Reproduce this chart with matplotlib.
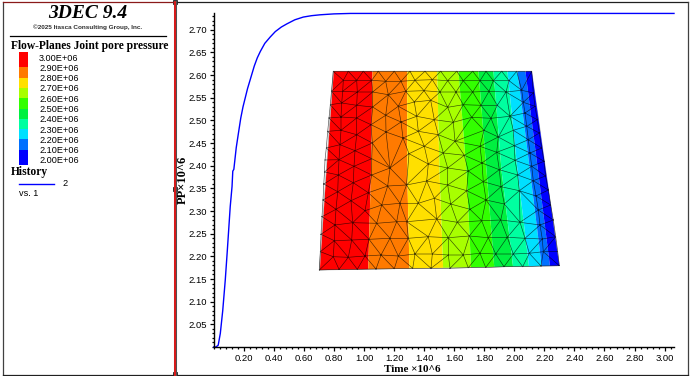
#!/usr/bin/env python3
# -*- coding: utf-8 -*-
import numpy as np
import matplotlib
matplotlib.use('Agg')
import matplotlib.pyplot as plt
import matplotlib.tri as tri
from matplotlib.patches import Polygon, Rectangle
from matplotlib.ticker import MultipleLocator

# history curve, time and pore pressure (x10^6)
time_vals = [0.0, 0.015, 0.03, 0.044, 0.06, 0.077, 0.09, 0.10, 0.11, 0.122, 0.127, 0.134, 0.15, 0.166, 0.18, 0.195,
             0.21, 0.225, 0.243, 0.27, 0.29, 0.31, 0.34, 0.376, 0.41, 0.45, 0.487, 0.54, 0.596, 0.65, 0.708, 0.8,
             0.91, 1.5, 2.2, 3.0625]
pp_vals = [2.0, 2.0, 2.004, 2.03, 2.08, 2.148, 2.21, 2.26, 2.31, 2.354, 2.388, 2.392, 2.44, 2.475, 2.505, 2.53,
           2.55, 2.57, 2.59, 2.62, 2.638, 2.652, 2.67, 2.684, 2.696, 2.706, 2.713, 2.722, 2.728, 2.731, 2.733, 2.735,
           2.736, 2.736, 2.736, 2.736]

x_ticks = [0.20, 0.40, 0.60, 0.80, 1.00, 1.20, 1.40, 1.60, 1.80, 2.00, 2.20, 2.40, 2.60, 2.80, 3.00]
y_ticks = [2.05, 2.10, 2.15, 2.20, 2.25, 2.30, 2.35, 2.40, 2.45, 2.50, 2.55, 2.60, 2.65, 2.70]

# contour legend
legend_vals = [3.00, 2.90, 2.80, 2.70, 2.60, 2.50, 2.40, 2.30, 2.20, 2.10, 2.00]
legend_edges = [3.05, 2.90, 2.80, 2.70, 2.60, 2.50, 2.40, 2.30, 2.20, 2.10, 1.95]
band_colors = ['#ff0000', '#ff7a00', '#ffe000', '#a8ff00', '#33ff00', '#00f040', '#00ffa0', '#00e0ff', '#0070ff', '#0000ff']

# contour bands of the mesh plot: x of each band edge on three rows
band_rows = [71.3, 170, 270]
band_top = [333.3, 372, 406.7, 436.7, 458, 478, 493, 507, 517, 525, 532]
band_mid = [326, 370.5, 406.7, 439, 466, 486, 501, 517, 529.5, 537.5, 546]
band_bot = [319.3, 367.7, 409, 442.7, 470.7, 494, 513, 529, 541.7, 550, 560]
outline_x = [333.3, 531.7, 559.3, 319.3]
outline_y = [71.3, 71.3, 265.7, 270]

# mesh nodes
mesh_nodes = [
    (333.3, 71.3), (348.3, 71.3), (363.3, 71.3), (378.3, 71.3), (394.3, 71.3), (410, 71.3), (425, 71.3),
    (440.7, 71.3), (456.7, 71.3), (472.7, 71.3), (486, 71.3), (501.7, 71.3), (516.7, 71.3), (531.7, 71.3),
    (343.3, 80.3), (356.7, 80.3), (371.7, 80.3), (385.7, 81.3), (401, 81.3), (415, 80.3), (432.3, 79.7),
    (447.7, 80.7), (463.3, 80.7), (480, 80.7), (493.3, 80.7), (509, 80.7),
    (331.5, 91.3), (342.7, 91.3), (357.3, 92), (372.7, 92), (388.3, 94.7), (405.7, 91.3), (424, 90.7),
    (440, 92), (456, 92), (472.7, 92), (489, 91.3), (506, 92), (521.7, 90.3), (533.3, 93),
    (330.3, 104.7), (341.7, 103), (356.7, 105.3), (372.7, 107), (398.3, 106.3), (414.3, 102), (430.7, 100.3),
    (447.7, 107.3), (463.3, 104.7), (481, 105.3), (497.3, 105.3), (523.3, 102.3), (535, 106.3),
    (329, 118), (341, 117), (356.7, 118), (385.7, 115.3), (401, 122), (416.7, 116.3), (434.3, 119.7),
    (453.3, 122.3), (471.7, 117.3), (491, 118.3), (510, 116.3), (525, 113), (537.3, 119.7),
    (327.7, 131.3), (341, 130.3), (356.7, 134.7), (371, 124.7), (386, 132), (418.3, 131.3), (438.3, 134.7),
    (484, 130.3), (513.3, 130.3), (526.7, 126.3), (539.3, 133), (498.3, 137), (528.3, 139.7), (403, 138), (455, 141.3),
    (326.3, 148), (340, 144.7), (355, 150.7), (372.3, 143), (424.3, 146.3), (480, 146.3), (514.3, 145.7),
    (541.7, 148), (443.3, 153), (464.3, 155.3), (496.7, 152.3), (530, 153), (409, 153.7),
    (325, 160), (339, 159.7), (354, 166.3), (371.7, 158.7), (390, 168), (428.3, 164), (447.7, 168), (468.3, 171),
    (482, 163), (515, 160.3), (531.7, 166.3), (544, 161.3), (499.3, 169.7),
    (324.5, 172), (338.3, 175), (371.7, 175), (406.5, 185), (353.3, 182.7), (387.7, 186), (426.7, 181), (447.7, 185),
    (483.3, 181.7), (517.7, 175), (533.3, 180.7), (545.5, 176), (323.8, 184),
    (337.7, 191.7), (351, 200.7), (368.3, 192.7), (381.7, 205), (400, 203.3), (323, 200), (418.3, 203.3),
    (434.3, 198.3), (450.7, 204), (466.7, 190.7), (486, 200), (501, 186.7), (519.3, 190.7), (536, 196),
    (548.3, 190), (504.3, 204), (538.3, 210), (550.7, 205),
    (336, 209.3), (365, 210.7), (322, 216.7), (335, 225), (352.7, 222.7), (376.7, 223.3), (396.7, 221.7),
    (406.7, 221.7), (436.7, 219), (457.3, 222.3), (470, 209.3), (481.7, 220.7), (500.7, 220), (520, 222.3),
    (540, 225), (553.3, 220),
    (321, 234.3), (334.3, 240.7), (351.7, 240), (369, 239.3), (390, 238.3), (408.3, 238.3), (428.3, 236.7),
    (448.3, 237.7), (469.3, 236), (488.3, 237.7), (507.3, 237.3), (525, 238.3), (542.3, 239), (555.7, 236.7),
    (320.3, 251.7), (333.3, 256.7), (348.3, 257.3), (365, 256), (381, 255), (398.3, 256), (415, 254), (432.3, 254),
    (448.3, 255), (463.3, 255), (480, 253.3), (495.7, 254), (513.3, 254), (529.3, 253.3), (543.3, 251.7), (557.7, 251.7),
    (319.3, 270), (339, 269.3), (357.3, 269.3), (376, 269), (394.3, 268.7), (412.7, 268.3), (431, 268.3),
    (450, 268.3), (468.3, 267.7), (485.7, 267.5), (504, 266.7), (522.7, 266.7), (541, 266), (559.3, 265.7),
]
mesh_x = [n[0] for n in mesh_nodes]
mesh_y = [n[1] for n in mesh_nodes]

W, H = 690.0, 376.0
sans = 'Liberation Sans'
serif = 'Liberation Serif'

fig = plt.figure(figsize=(6.9, 3.76), dpi=100, facecolor='white')

# window frame and divider
frame = fig.add_axes([0, 0, 1, 1])
frame.set_xlim(0, W)
frame.set_ylim(H, 0)
frame.axis('off')
frame.plot([3, 3], [2, 375], color='#404040', lw=0.9)
frame.plot([3, 175], [2, 2], color='#8a1a1a', lw=0.9)
frame.plot([175, 687.5], [2, 2], color='#202020', lw=0.9)
frame.plot([687.5, 687.5], [2, 375], color='#404040', lw=0.9)
frame.plot([3, 687.5], [374.8, 374.8], color='#202020', lw=0.9)
frame.plot([175, 175], [2, 376], color='#505050', lw=2.2)
frame.plot([175, 175], [2, 376], color='#f01010', lw=1.2)
for hy in [2, 189, 374]:
    frame.add_patch(Rectangle((172.8, hy - 2.2), 4.4, 4.4, fc='none', ec='#303030', lw=0.7))
frame.plot([10, 166], [36, 36], color='black', lw=0.9)
frame.plot([19, 54], [184, 184], color='#0000ff', lw=1.0)

# left panel text
fig.text(88 / W, 1 - 13.5 / H, '3DEC 9.4', family=serif, weight='bold', style='italic', fontsize=14, ha='center', va='center')
fig.text(88 / W, 1 - 27.5 / H, '©2025 Itasca Consulting Group, Inc.', family=sans, fontsize=4.6, weight='bold', color='#303030', ha='center', va='center')
fig.text(11 / W, 1 - 46 / H, 'Flow-Planes Joint pore pressure', family=serif, weight='bold', fontsize=8.3, ha='left', va='center')
fig.text(11 / W, 1 - 172 / H, 'History', family=serif, weight='bold', fontsize=8.3, ha='left', va='center')
fig.text(62 / W, 1 - 183 / H, '2', family=sans, fontsize=6.6, ha='left', va='center')
fig.text(19 / W, 1 - 193.5 / H, 'vs. 1', family=sans, fontsize=6.6, ha='left', va='center')

# contour legend swatches
leg = fig.add_axes([19 / W, 1 - 165 / H, 9 / W, 113 / H])
for i, c in enumerate(band_colors):
    leg.fill_between([0, 1], legend_edges[i + 1], legend_edges[i], color=c, lw=0)
leg.set_xlim(0, 1)
leg.set_ylim(1.95, 3.05)
leg.set_xticks([])
leg.set_yticks(legend_vals)
leg.set_yticklabels(['%.2fE+06' % v for v in legend_vals], family=sans, fontsize=6.6)
leg.yaxis.tick_right()
leg.tick_params(axis='y', length=0, pad=8)
for s in leg.spines.values():
    s.set_visible(False)

# history plot
ax = fig.add_axes([213.7 / W, 1 - 347 / H, 460.3 / W, 333.7 / H])
ax.patch.set_alpha(0)
ax.plot(time_vals, pp_vals, color='#0000ff', lw=1.0, clip_on=False)
ax.set_xlim(0, 3.0625)
ax.set_ylim(2.0, 2.7363)
ax.set_xticks(x_ticks)
ax.set_xticklabels(['%.2f' % v for v in x_ticks], family=sans, fontsize=6.8)
ax.set_yticks(y_ticks)
ax.set_yticklabels(['%.2f' % v for v in y_ticks], family=sans, fontsize=6.8)
ax.xaxis.set_minor_locator(MultipleLocator(0.04))
ax.yaxis.set_minor_locator(MultipleLocator(0.01))
ax.tick_params(axis='both', which='major', length=3.2, width=0.9, pad=1.5)
ax.tick_params(axis='both', which='minor', length=1.6, width=0.9)
ax.spines['top'].set_visible(False)
ax.spines['right'].set_visible(False)
ax.spines['left'].set_linewidth(1.0)
ax.spines['bottom'].set_linewidth(1.0)
fig.text(412 / W, 1 - 369 / H, 'Time ×10^6', family=serif, weight='bold', fontsize=8, ha='center', va='center')
fig.text(182.5 / W, 1 - 180 / H, 'PP×10^6', family=serif, weight='bold', fontsize=9, rotation=90, ha='center', va='center')

# mesh plot on top of the history plot
mesh = fig.add_axes([310 / W, 1 - 280 / H, 260 / W, 220 / H])
mesh.set_xlim(310, 570)
mesh.set_ylim(280, 60)
mesh.axis('off')
outline = Polygon(np.column_stack([outline_x, outline_y]), closed=True, fc='none', ec='#b0b0b0', lw=0.6)
mesh.add_patch(outline)
for i, c in enumerate(band_colors):
    left = [band_top[i], band_mid[i], band_bot[i]]
    right = [band_top[i + 1], band_mid[i + 1], band_bot[i + 1]]
    art = mesh.fill_betweenx(band_rows, left, right, color=c, lw=0)
    art.set_clip_path(outline)
triang = tri.Triangulation(mesh_x, mesh_y)
# flat slivers along the hull are not mesh zones
triang.set_mask(tri.TriAnalyzer(triang).get_flat_tri_mask(0.12))
mesh.triplot(triang, color='black', lw=0.45, alpha=0.7)

plt.savefig('out.png', dpi=100)
